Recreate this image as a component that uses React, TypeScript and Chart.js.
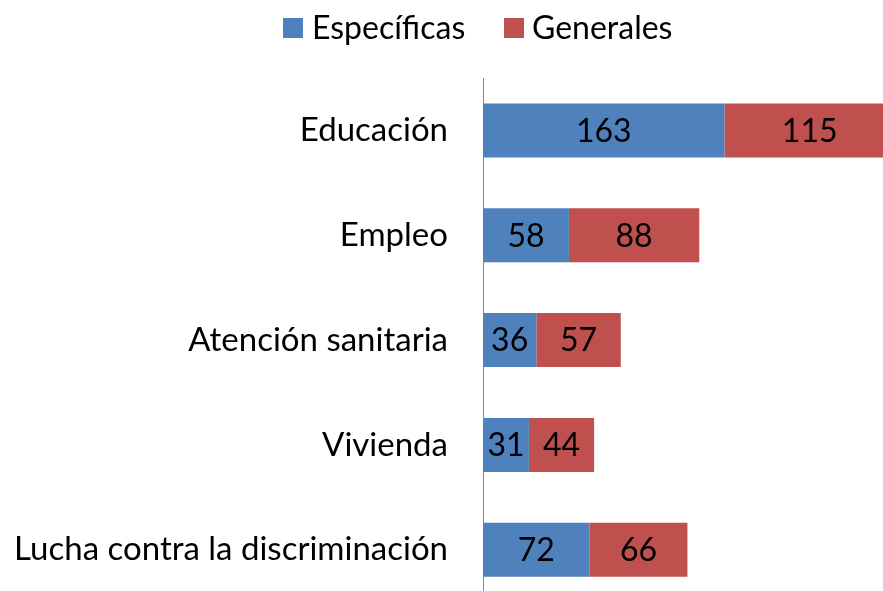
import React, { useEffect, useRef } from "react";
import { Chart, registerables } from "chart.js";

Chart.register(...registerables);

const categories = ["Educación", "Empleo", "Atención sanitaria", "Vivienda", "Lucha contra la discriminación"];
const especificas = [163, 58, 36, 31, 72];
const generales = [115, 88, 57, 44, 66];
const seriesNames = ["Específicas", "Generales"];
const colors = ["#4F81BD", "#C0504D"];

const FONT = "Lato, 'Noto Sans', sans-serif";
const FS = 32;

const legendPlugin = {
  id: "customLegend",
  afterDraw(chart: any) {
    const ctx = chart.ctx;
    ctx.save();
    ctx.font = `${FS}px ${FONT}`;
    ctx.textBaseline = "middle";
    ctx.textAlign = "left";
    const items = [
      { box: 283, text: 312, label: seriesNames[0], color: colors[0] },
      { box: 504, text: 532, label: seriesNames[1], color: colors[1] },
    ];
    items.forEach((it) => {
      ctx.fillStyle = it.color;
      ctx.fillRect(it.box, 18, 20, 20);
      ctx.fillStyle = "#000";
      ctx.fillText(it.label, it.text, 29);
    });
    ctx.restore();
  },
};

const valueLabels = {
  id: "valueLabels",
  afterDatasetsDraw(chart: any) {
    const ctx = chart.ctx;
    ctx.save();
    ctx.font = `${FS}px ${FONT}`;
    ctx.fillStyle = "#000";
    ctx.textAlign = "center";
    ctx.textBaseline = "middle";
    chart.data.datasets.forEach((ds: any, i: number) => {
      const meta = chart.getDatasetMeta(i);
      meta.data.forEach((el: any, j: number) => {
        const cx = (el.x + el.base) / 2;
        ctx.fillText(String(ds.data[j]), cx, el.y + 1);
      });
    });
    ctx.restore();
  },
};

export default function App() {
  const ref = useRef<HTMLCanvasElement | null>(null);
  useEffect(() => {
    if (!ref.current) return;
    const chart = new Chart(ref.current, {
      type: "bar",
      data: {
        labels: categories,
        datasets: [
          { label: seriesNames[0], data: especificas, backgroundColor: colors[0] },
          { label: seriesNames[1], data: generales, backgroundColor: colors[1] },
        ],
      },
      options: {
        indexAxis: "y",
        animation: false,
        responsive: false,
        maintainAspectRatio: false,
        layout: { padding: { top: 78, right: 0, bottom: 0, left: 0 } },
        datasets: { bar: { barPercentage: 0.515, categoryPercentage: 1 } },
        plugins: { legend: { display: false }, tooltip: { enabled: false } },
        scales: {
          x: { stacked: true, min: 0, max: 270, display: false },
          y: {
            stacked: true,
            grid: { display: false },
            border: { display: true, color: "#888888", width: 1 },
            ticks: { color: "#000", font: { family: FONT, size: 33 }, padding: 27 },
            afterFit: (scale: any) => {
              scale.width = 483;
            },
          },
        },
      },
      plugins: [legendPlugin, valueLabels],
    });
    return () => chart.destroy();
  }, []);
  return (
    <div style={{ position: "fixed", top: 0, left: 0, width: 883, height: 591, overflow: "hidden", background: "#fff" }}>
      <canvas ref={ref} width={883} height={649} style={{ display: "block", width: 883, height: 649 }} />
    </div>
  );
}
